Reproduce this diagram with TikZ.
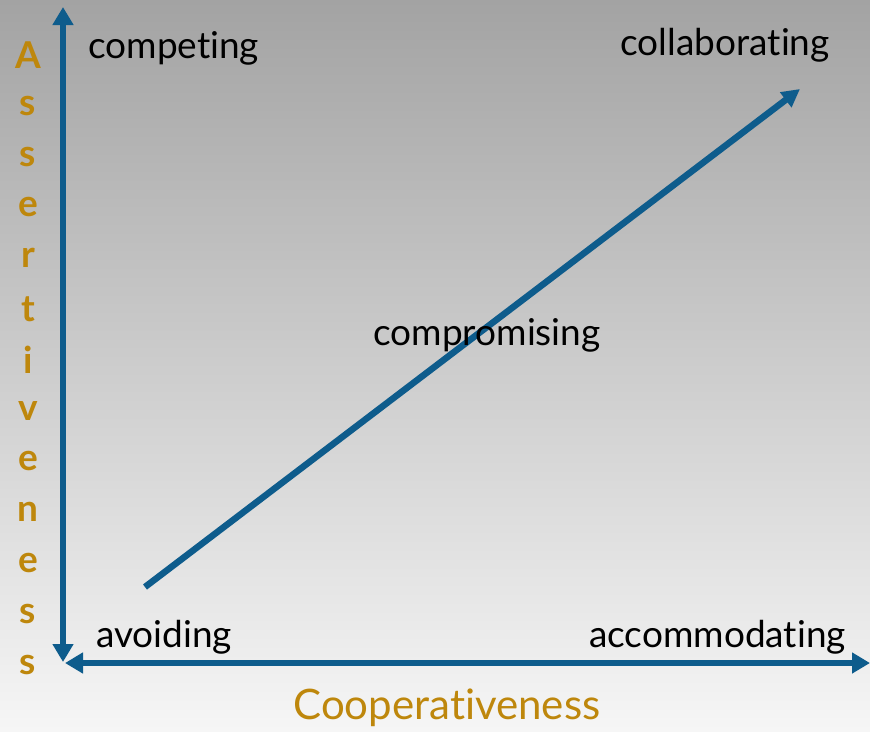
\documentclass[tikz,border=0pt]{standalone}
\usepackage{fontspec}
\setmainfont{Lato}[Ligatures={NoCommon}]
\usetikzlibrary{arrows.meta}
\definecolor{axisblue}{RGB}{14,92,140}
\definecolor{labelgold}{RGB}{190,135,12}
\tikzset{
  axis/.style={axisblue, line width=6.5pt, {Triangle[width=20pt,length=18pt]}-{Triangle[width=20pt,length=18pt]}},
  mode/.style={font=\fontsize{37}{39}\selectfont, inner sep=0pt},
  title/.style={labelgold, font=\fontsize{42}{44}\selectfont, inner sep=0pt}
}
\begin{document}
\begin{tikzpicture}[x=1pt,y=-1pt]
% Background with the grey gradient
\shade [top color={rgb,255:red,163;green,163;blue,163}, bottom color={rgb,255:red,246;green,246;blue,246}]
  (0,0) rectangle (870,731);
\useasboundingbox (0,0) rectangle (870,731);

% Ends of the axes and of the diagonal
\coordinate (ytop) at (63,7);
\coordinate (ybot) at (63,662);
\coordinate (xleft) at (65,663);
\coordinate (xright) at (870,663);
\coordinate (dstart) at (145,587);
\coordinate (dend) at (800,89);

% The two axes
\draw [axis] (ybot) -- (ytop);
\draw [axis] (xleft) -- (xright);

% The diagonal from avoiding to collaborating
\draw [axisblue, line width=6.5pt, -{Triangle[width=18pt,length=18pt]}] (dstart) -- (dend);

% Labels of the five modes
\node [mode, anchor=west] (competing) at (88,48) {competing};
\node [mode, anchor=east] (collaborating) at (830,45) {collaborating};
\node [mode] (compromising) at (487,335) {compromising};
\node [mode, anchor=west] (avoiding) at (96,637) {avoiding};
\node [mode, anchor=east] (accommodating) at (846,637) {accommodating};

% Vertical axis title, one letter a row
\foreach \lab [count=\i from 0] in {A,s,s,e,r,t,i,v,e,n,e,s,s} {
  \node [title, font=\fontsize{37}{39}\selectfont\bfseries] (assert\i) at (28, 55 + \i * 50.8) {\lab};
}

% Horizontal axis title
\node [title] (cooperativeness) at (447,708) {Cooperativeness};
\end{tikzpicture}
\end{document}
